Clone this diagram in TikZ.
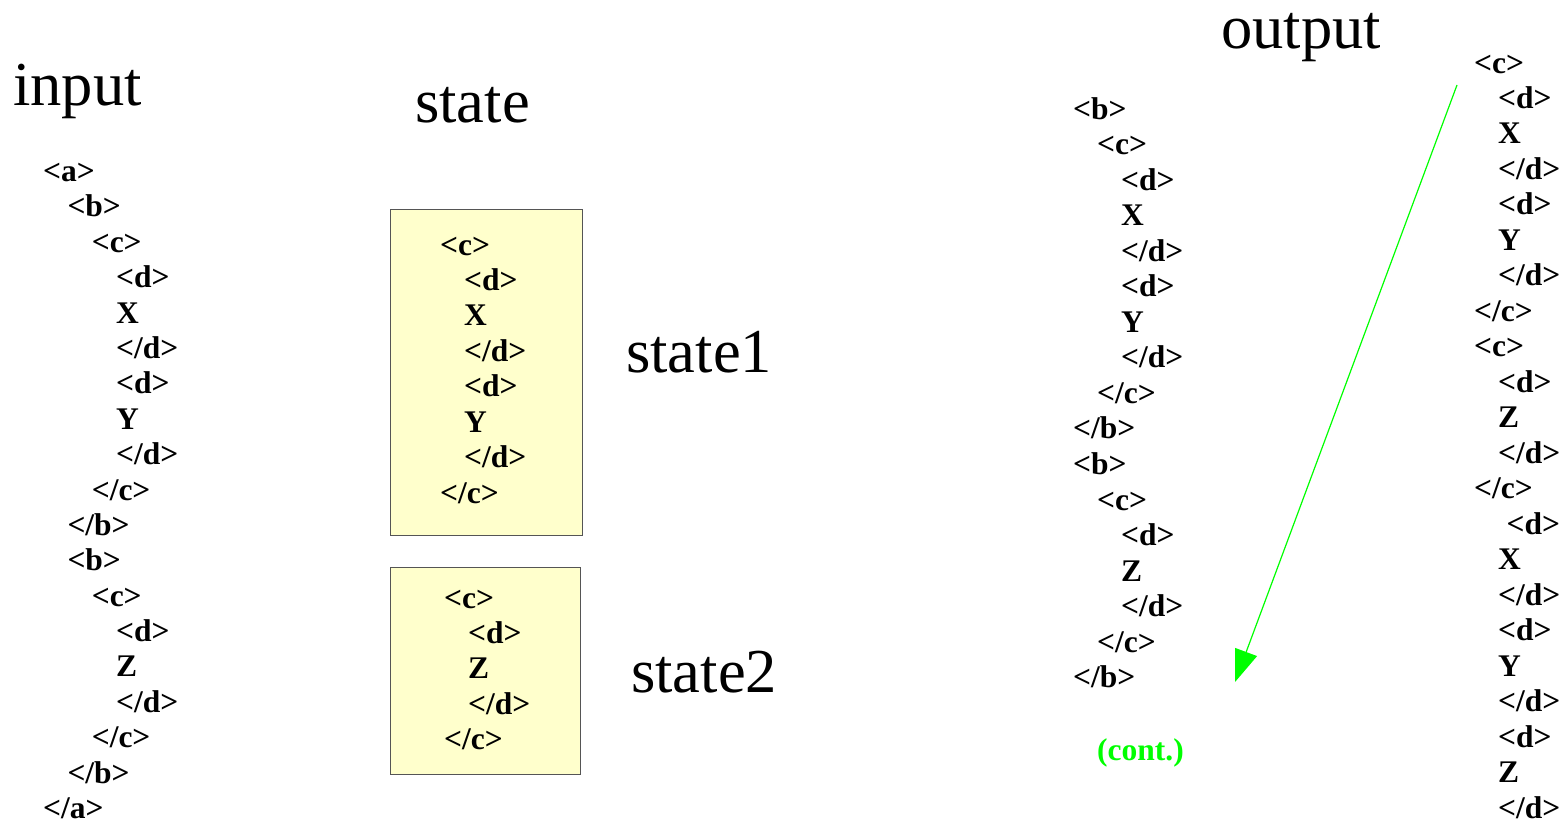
\documentclass[tikz,border=0pt]{standalone}
\usepackage{fontspec}
\setmainfont{Liberation Serif}
\usetikzlibrary{arrows.meta}
\definecolor{boxfill}{HTML}{FFFFCC}
\definecolor{boxline}{HTML}{555555}
\definecolor{brightgreen}{HTML}{00FF00}
\tikzset{
  tag/.style={inner sep=0pt, anchor=base west, font=\fontsize{31.5}{36}\selectfont\bfseries},
  title/.style={inner sep=0pt, anchor=base west, font=\fontsize{62.5}{70}\selectfont},
  statebox/.style={draw=boxline, fill=boxfill, line width=1pt},
  flow/.style={draw=brightgreen, line width=1.2pt, -{Triangle[length=32pt,width=23pt]}}
}
\begin{document}
\begin{tikzpicture}[x=1pt,y=-1pt]
\useasboundingbox (0,0) rectangle (1562,825);
% titles
\node[title] (tin) at (13,105) {input};
\node[title] (tst) at (415,122) {state};
\node[title] (tout) at (1221,48) {output};
\node[title] (ts1) at (626,372) {state1};
\node[title] (ts2) at (631,692) {state2};
% state boxes
\path[statebox] (390,209) rectangle (582,535);
\path[statebox] (390,567) rectangle (580,774);
% input column
\foreach \d/\t [count=\i from 0] in {0/{<a>},1/{<b>},2/{<c>},3/{<d>},3/{X},3/{</d>},3/{<d>},3/{Y},3/{</d>},2/{</c>},1/{</b>},1/{<b>},2/{<c>},3/{<d>},3/{Z},3/{</d>},2/{</c>},1/{</b>},0/{</a>}}
  \node[tag] (in\i) at (43+24.3*\d,181.5+35.39*\i) {\t};
% state1 box content
\foreach \d/\t [count=\i from 0] in {0/{<c>},1/{<d>},1/{X},1/{</d>},1/{<d>},1/{Y},1/{</d>},0/{</c>}}
  \node[tag] (sa\i) at (440+24*\d,255+35.45*\i) {\t};
% state2 box content
\foreach \d/\t [count=\i from 0] in {0/{<c>},1/{<d>},1/{Z},1/{</d>},0/{</c>}}
  \node[tag] (sb\i) at (444+24*\d,608+35.4*\i) {\t};
% output column 1
\foreach \d/\t [count=\i from 0] in {0/{<b>},1/{<c>},2/{<d>},2/{X},2/{</d>},2/{<d>},2/{Y},2/{</d>},1/{</c>},0/{</b>},0/{<b>},1/{<c>},2/{<d>},2/{Z},2/{</d>},1/{</c>},0/{</b>}}
  \node[tag] (oa\i) at (1073+24*\d,119+35.55*\i) {\t};
\node[tag, text=brightgreen] (cont) at (1097,760) {(cont.)};
% output column 2
\foreach \d/\t [count=\i from 0] in {0/{<c>},1/{<d>},1/{X},1/{</d>},1/{<d>},1/{Y},1/{</d>},0/{</c>},0/{<c>},1/{<d>},1/{Z},1/{</d>},0/{</c>},1.35/{<d>},1/{X},1/{</d>},1/{<d>},1/{Y},1/{</d>},1/{<d>},1/{Z},1/{</d>}}
  \node[tag] (ob\i) at (1474+24*\d,73+35.48*\i) {\t};
% arrow
\coordinate (as) at (1457,85);
\coordinate (ae) at (1235,682);
\draw[flow] (as) -- (ae);
\end{tikzpicture}
\end{document}
